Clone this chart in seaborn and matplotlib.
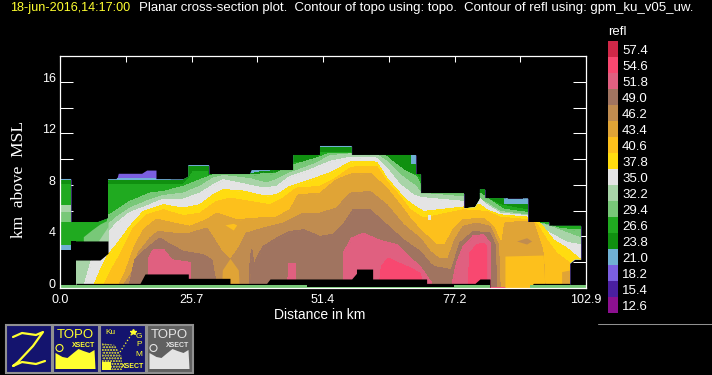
"""
 Title:         Planar cross-section
 Description:   Reflectivity bands over distance and height, with a stepped colour key
"""

# Libraries
import numpy as np
import matplotlib
matplotlib.use("Agg")
import matplotlib.pyplot as plt
from matplotlib.colors import ListedColormap
from matplotlib.patches import Circle, Polygon, Rectangle
from matplotlib.transforms import ScaledTranslation
import seaborn as sns

# Colour key, lowest level first
LEVELS = [12.6, 15.4, 18.2, 21.0, 23.8, 26.6, 29.4, 32.2, 35.0, 37.8, 40.6, 43.4, 46.2, 49.0, 51.8, 54.6, 57.4]
COLOURS = ["#8c1090", "#4a1fa0", "#7b5fe0", "#70b0d4", "#109010", "#20aa20", "#78c878", "#a8d4a8", "#e4e4e4",
           "#ffdc10", "#fdc01c", "#e0a436", "#c08c50", "#a07460", "#e06080", "#f84870", "#d02848"]

X_TICKS = [0.0, 25.7, 51.4, 77.2, 102.9]

# Outer edge of the echo (km, km)
OUTLINE_X = [0, 2.15, 2.15, 7.5, 9.39, 9.39, 11.08, 11.4, 15.97, 16.95, 18.78, 18.78, 24.12, 25.1, 25.1, 29.14, 29.14,
             37.16, 37.5, 45.64, 45.64, 50.86, 50.86, 57.05, 57.05, 69.63, 69.63, 70.55, 70.55, 79.02, 79.02, 81.2,
             82.15, 82.15, 83.13, 83.13, 91.54, 91.54, 95.65, 95.65, 101.91, 101.91, 100.73, 99.76, 99.76, 0]
OUTLINE_Y = [8.46, 8.46, 5.12, 5.12, 5.4, 8.43, 8.43, 8.9, 8.9, 9.15, 9.15, 8.43, 8.43, 8.64, 9.54, 9.54, 8.84,
             8.84, 9.15, 9.15, 10.32, 10.32, 11.02, 11.02, 10.32, 10.32, 8.84, 8.84, 7.34, 7.34, 6.18, 6.26,
             6.9, 7.65, 7.65, 6.96, 6.96, 5.12, 5.12, 4.82, 4.82, 2.22, 2.22, 1.91, 0, 0]

# Top of each band in km
BLUE_X = [0, 9.39, 9.39, 21.52, 21.6, 87.4, 87.4, 90.7, 90.7, 102.9]
BLUE_Y = [12, 12, 8.46, 8.46, 12, 12, 6.88, 6.88, 12, 12]

DARK_X = [0, 9.39, 24.12, 25.1, 25.1, 29.14, 29.14, 37.16, 39.77, 41.08, 42, 45.64, 45.64, 50.86, 50.86, 57.05, 57.05,
          68.46, 68.46, 69.63, 69.63, 70.55, 70.55, 82.15, 83.13, 83.13, 86.72, 86.72, 91.54, 91.54, 102.9]
DARK_Y = [8.3, 8.33, 8.33, 8.64, 9.41, 9.41, 8.84, 8.84, 9.03, 9.03, 9.15, 9.15, 10.32, 10.32, 10.91, 10.91, 10.32,
          10.32, 9.54, 9.54, 8.84, 8.84, 7.34, 7.65, 7.65, 6.96, 6.96, 6.44, 6.44, 5.12, 5.12]

GREEN_X = [0, 2.15, 2.15, 9.39, 9.39, 24.12, 25.1, 26.08, 28.69, 29.14, 32, 37.16, 39.77, 43.68, 45.64, 50.2, 50.86,
           57.05, 57.05, 63.24, 66.5, 69.63, 70.55, 70.61, 82.15, 83.46, 86.06, 89.32, 91.41, 92.58, 102.9]
GREEN_Y = [7.99, 7.99, 6, 6, 7.99, 7.99, 8.38, 9.03, 9.03, 8.38, 8.38, 8.51, 8.77, 9.03, 9.67, 9.8, 10.5,
           10.5, 9.93, 9.93, 9.03, 8.77, 8.38, 7.34, 7.34, 6.96, 6.44, 6.18, 6.05, 5.12, 5.0]

LIGHT_X = [0, 9.39, 9.39, 13.69, 17.6, 20.21, 24.12, 27.38, 29.99, 37.16, 42.38, 44.99, 50.2, 52.81, 63.24, 64.55,
           67.16, 69.63, 70.55, 70.61, 82.15, 84.43, 86.72, 91.41, 92.26, 95.65, 97.8, 101.91]
LIGHT_Y = [2.3, 2.3, 5.59, 6.7, 7.34, 7.47, 7.86, 8.38, 8.77, 8.77, 8.9, 9.46, 10.06, 10.45, 10.4, 9.93,
           9.15, 8.64, 7.99, 7.34, 7.34, 6.7, 6.1, 5.84, 5.12, 4.89, 4.58, 4.5]

PALE_X = [0, 9.39, 9.39, 11.08, 13.69, 17.6, 20.21, 24.12, 27.38, 29.99, 31.95, 37.16, 40.42, 42.38, 44.99, 50.2, 52.81,
          57.05, 61.94, 63.9, 66.5, 69.63, 70.61, 81.5, 83.46, 86.06, 91.41, 92.58, 95.84, 98.45, 101.91]
PALE_Y = [2.3, 2.3, 4.89, 5.48, 6.18, 6.83, 7.16, 7.34, 7.86, 8.51, 8.71, 8.46, 8.12, 8.38, 8.9, 9.67, 10.24,
          10.4, 10.32, 9.8, 8.77, 7.86, 7.34, 6.96, 6.57, 5.92, 5.66, 5.12, 4.76, 4.37, 3.85]

WHITE_X = [0, 4.89, 4.89, 6.19, 8.48, 9.39, 11.08, 13.69, 17.6, 20.21, 24.12, 27.38, 29.99, 31.95, 35.21, 39.77, 42.38,
           44.99, 48.9, 52.81, 57.05, 61.94, 63.9, 66.5, 69.11, 70.61, 78.89, 82.15, 83.46, 86.06, 91.41, 93.24, 95.84,
           99.1, 101.91]
WHITE_Y = [0, 0, 0.36, 2.17, 3.47, 4.24, 5.02, 5.84, 6.44, 6.88, 6.88, 7.34, 7.99, 8.38, 8.12, 7.73, 7.86,
           8.64, 9.15, 9.8, 10.14, 10.06, 9.28, 7.99, 7.21, 7.0, 6.7, 6.9, 6.44, 5.79, 5.59, 4.89, 4.24,
           3.52, 3.34]

YELLOW_X = [0, 6.85, 6.85, 7.82, 9.39, 11.08, 13.69, 16.3, 20.21, 24.12, 27.38, 29.99, 31.95, 35.21, 39.77, 42.38, 44.99,
            48.9, 52.81, 57.05, 61.94, 63.9, 66.5, 68.46, 71.07, 78.89, 82.15, 83.46, 86.06, 91.41, 93.89, 96.5, 99.1,
            101.91]
YELLOW_Y = [0, 0, 0.36, 1.27, 2.56, 3.34, 4.76, 5.92, 6.44, 6.18, 6.44, 7.21, 7.6, 7.55, 7.14, 7.21, 7.86,
            8.38, 8.9, 9.8, 9.75, 8.51, 7.34, 6.57, 5.92, 6.26, 6.44, 6.05, 5.66, 5.48, 5.02, 3.72, 3.08,
            2.17]

ORANGE_X = [0, 8.8, 8.8, 10.1, 11.74, 14.34, 16.95, 20.21, 24.12, 27.38, 30.64, 33.25, 37.16, 41.08, 43.68, 46.29, 50.86,
            53.46, 57.05, 61.94, 63.9, 66.5, 68.46, 71.07, 78.89, 83.46, 86.06, 91.41, 93.24, 95.19, 97.15, 99.76, 101.91]
ORANGE_Y = [0, 0, 0.36, 1.4, 2.56, 4.63, 5.66, 6.05, 5.59, 5.79, 6.7, 6.96, 6.7, 6.44, 6.96, 7.73, 7.86,
            8.38, 9.36, 9.41, 8.25, 7.09, 6.05, 5.4, 6.05, 5.92, 5.48, 5.28, 4.97, 3.72, 2.69, 1.91, 1.91]

TAN_X = [0, 11.74, 11.74, 12.71, 14.34, 16.3, 18.9, 22.17, 25.43, 28.69, 30.64, 34.56, 38.47, 42.38, 44.99, 46.62, 50.86,
         54.12, 57.05, 60.64, 63.9, 66.5, 68.46, 70.42, 73.68, 75.31, 76.94, 78.89, 82.8, 84.76, 86.39, 87.04, 89.98,
         92.58, 94.21, 94.54, 94.87, 102.9]
TAN_Y = [0, 0, 0.36, 1.14, 2.95, 4.5, 5.33, 5.02, 4.76, 5.28, 5.79, 5.28, 5.4, 5.48, 6.05, 7.21, 7.34,
         8.38, 8.84, 8.9, 7.73, 6.44, 5.4, 4.5, 3.34, 3.34, 4.5, 5.28, 5.4, 4.76, 3.34, 5.02, 5.15,
         5.07, 3.21, 2.56, 0, 0]

BROWN_X = [0, 12.71, 12.71, 14.02, 15.32, 17.6, 19.23, 22.17, 25.43, 28.69, 29.99, 31.62, 32.93, 33.58, 35.21, 36.51,
           39.77, 43.68, 46.29, 47.6, 50.86, 54.12, 56.72, 60.64, 63.9, 67.16, 70.42, 72.37, 74.0, 75.96, 77.26, 78.89,
           81.5, 84.11, 85.74, 86.06, 102.9]
BROWN_Y = [0, 0, 0.36, 1.14, 2.69, 3.85, 4.37, 4.24, 4.24, 4.63, 3.85, 2.82, 2.3, 2.3, 3.21, 4.24,
           4.63, 5.02, 5.53, 5.79, 5.79, 6.18, 7.34, 7.47, 6.44, 4.89, 3.85, 2.82, 2.3, 2.3, 3.72, 4.76,
           5.02, 4.76, 3.34, 0, 0]

UMBER_X = [0, 13.69, 13.69, 14.67, 16.3, 18.26, 19.56, 20.86, 24.12, 28.04, 29.67, 30.32, 30.45, 37.03, 37.16, 37.49, 37.95,
           38.47, 39.77, 42.38, 44.99, 47.6, 50.86, 53.46, 55.42, 57.38, 60.64, 63.9, 67.16, 70.42, 72.37, 73.02, 76.61,
           78.24, 80.85, 84.11, 85.09, 85.41, 102.9]
UMBER_Y = [0, 0, 0.36, 2.17, 2.82, 3.47, 3.85, 3.52, 2.82, 2.56, 2.17, 0.75, 0, 0, 1.66, 2.95, 1.66,
           2.3, 3.21, 3.85, 4.37, 4.5, 3.98, 4.16, 4.89, 6.05, 6.05, 4.89, 3.72, 2.82, 1.91, 1.66, 1.4,
           3.47, 4.37, 4.24, 3.34, 0, 0]

ROSE_X = [0, 17.41, 17.41, 18.26, 20.21, 21.84, 25.43, 25.43, 44.6, 44.73, 45.97, 46.16, 55.42, 55.42, 57.05, 59.33, 62.27,
          65.85, 67.81, 70.42, 72.7, 72.76, 76.61, 77.59, 78.89, 80.85, 82.8, 84.11, 84.11, 102.9]
ROSE_Y = [0, 0, 2.3, 2.95, 3, 2.17, 1.97, 0, 0, 1.91, 1.91, 0, 0, 2.69, 3.85, 4.24, 3.72,
          3.34, 2.56, 1.66, 0.36, 0, 0, 1.91, 3.21, 4.03, 4.11, 3.47, 0, 0]

PINK_X = [0, 62.46, 62.92, 64.22, 65.53, 67.81, 70.42, 71.07, 79.87, 80.2, 81.5, 82.8, 83.46, 83.46, 102.9]
PINK_Y = [0, 0, 1.66, 2.3, 2.04, 1.66, 1.14, 0, 0, 2.69, 3.34, 3.47, 3.21, 0, 0]

# Pockets that break the nesting (x, lower, upper)
POCKETS = [
    ([0, 2.15], [5.12, 5.12], [6.44, 6.44], 6),
    ([0, 2.15], [5.92, 5.92], [6.44, 6.44], 7),
    ([0, 2.15], [2.95, 2.95], [3.34, 3.34], 3),
    ([4.56, 6.19, 7.82, 9.39], [3.65, 3.65, 3.65, 3.65], [3.98, 4.5, 4.97, 5.28], 6),
    ([7.5, 8.48, 9.39], [3.65, 3.65, 3.65], [3.65, 4.24, 4.76], 7),
    ([31.62, 31.75, 33.25, 34.88, 35.08], [0, 0, 0, 0, 0], [0, 1.4, 2.3, 1.4, 0], 11),
    ([32.27, 33.9, 34.56], [4.9, 4.5, 4.9], [4.9, 5.02, 4.9], 10),
    ([87.04, 94.54, 94.87], [0, 0, 0], [2.48, 2.56, 0], 10),
    ([98.13, 99.76], [0, 0], [1.27, 1.4], 11),
    ([89.32, 91.28, 92.26], [3.65, 3.41, 3.65], [3.65, 3.9, 3.65], 12),
    ([71.9, 72.6], [5.3, 5.3], [5.7, 5.7], 8),
]

# No-data areas near the ground
HOLE_X = [2.15, 7.82, 9.39]
HOLE_LOW = [2.17, 2.17, 2.69]
HOLE_TOP = [3.65, 3.65, 3.65]
LEFT_GAP_X = [0, 2.15, 2.15, 3.13]
LEFT_GAP_Y = [2.95, 2.95, 3.65, 3.65]
GROUND_X = [3.13, 15.65, 16.63, 25.1, 25.1, 33.25, 33.25, 40.42, 41.08, 57.05, 58.0, 58.0, 61.16, 61.16, 71.72, 71.72,
            81.17, 82.15, 84.11, 84.11, 91.93, 92.6, 99.76]
GROUND_Y = [0.36, 0.36, 1.09, 1.09, 0.75, 0.75, 0.36, 0.36, 0.7, 0.7, 1.14, 1.47, 1.47, 0.7, 0.7, 0.36,
            0.36, 0.7, 0.7, 0, 0, 0.36, 0.36]

# Terrain strip
TOPO_X = [0, 48.25, 48.25, 77, 77, 84.11, 84.11, 91.93, 91.93, 102.9]
TOPO_Y = [0.22, 0.22, 0.05, 0.05, 0.2, 0.2, 0, 0, 0.2, 0.2]

def draw_band(axis, x_list:list, y_list:list, colour:str, clip, order:float) -> None:
    """
    Draws one band as a seaborn edge line with the area below it filled

    Parameters:
    * `axis`:   The axis to draw on
    * `x_list`: Distances (km)
    * `y_list`: Heights of the top of the band (km)
    * `colour`: The band colour
    * `clip`:   The echo outline
    * `order`:  The drawing order of the band
    """
    sns.lineplot(x=x_list, y=y_list, ax=axis, color=colour, linewidth=0.4, sort=False, zorder=order,
                 estimator=None, errorbar=None, legend=False, antialiased=False)
    axis.lines[-1].set_clip_path(clip)
    fill = axis.fill_between(x_list, 0, y_list, color=colour, linewidth=0, antialiased=False, zorder=order)
    fill.set_clip_path(clip)

def draw_button(axis, left:float, back:str, edge:str) -> None:
    axis.add_patch(Rectangle((left, 325), 46, 48, facecolor=back, edgecolor=edge, linewidth=1.5))

# Set up figure
sns.set_style("dark", {"axes.facecolor": "black", "figure.facecolor": "black", "text.color": "white",
                       "axes.edgecolor": "white", "xtick.color": "white", "ytick.color": "white",
                       "axes.labelcolor": "white"})
plt.rcParams["font.family"] = ["Liberation Sans", "DejaVu Sans"]
palette = sns.color_palette(COLOURS)
fig = plt.figure(figsize=(7.12, 3.75), dpi=100)
axis = fig.add_axes([60/712, 1 - 288/375, 526/712, 232/375])

# Echo
clip = Polygon(np.column_stack([OUTLINE_X, OUTLINE_Y]), closed=True, transform=axis.transData)
axis.fill_between(OUTLINE_X, 0, OUTLINE_Y, color=palette[2], linewidth=0, antialiased=False, zorder=1.0)
bands = [(BLUE_X, BLUE_Y, 3), (DARK_X, DARK_Y, 4), (GREEN_X, GREEN_Y, 5), (LIGHT_X, LIGHT_Y, 6), (PALE_X, PALE_Y, 7),
         (WHITE_X, WHITE_Y, 8), (YELLOW_X, YELLOW_Y, 9), (ORANGE_X, ORANGE_Y, 10), (TAN_X, TAN_Y, 11),
         (BROWN_X, BROWN_Y, 12), (UMBER_X, UMBER_Y, 13), (ROSE_X, ROSE_Y, 14), (PINK_X, PINK_Y, 15)]
for x_list, y_list, index in bands:
    draw_band(axis, x_list, y_list, palette[index], clip, 1 + index*0.03)
for x_list, lower, upper, index in POCKETS:
    pocket = axis.fill_between(x_list, lower, upper, color=palette[index], linewidth=0, antialiased=False, zorder=1.6)
    pocket.set_clip_path(clip)

# No-data areas and terrain
axis.fill_between(HOLE_X, HOLE_LOW, HOLE_TOP, color="black", linewidth=0, antialiased=False, zorder=1.7)
axis.fill_between(LEFT_GAP_X, 0, LEFT_GAP_Y, color="black", linewidth=0, antialiased=False, zorder=1.7)
axis.fill_between(GROUND_X, 0, GROUND_Y, color="black", linewidth=0, antialiased=False, zorder=1.7)
axis.fill_between(TOPO_X, 0, TOPO_Y, color=palette[6], linewidth=0, antialiased=False, zorder=1.8)

# Format axes
axis.set_xlim(0, 102.9)
axis.set_ylim(0, 18)
axis.set_xticks(np.linspace(0, 102.9, 9))
axis.set_xticklabels([f"{X_TICKS[i//2]:.1f}" if i % 2 == 0 else "" for i in range(9)])
axis.set_yticks(range(0, 18, 2))
axis.set_yticklabels([str(v) if v % 4 == 0 else "" for v in range(0, 18, 2)])
axis.tick_params(axis="x", direction="in", length=4.3, width=0.75, top=True, bottom=True, labelsize=9, pad=4.5)
axis.tick_params(axis="y", direction="in", length=9.4, width=0.75, left=True, right=True, labelsize=9, pad=3)
for label in axis.get_yticklabels():
    label.set_va("bottom")
    label.set_transform(label.get_transform() + ScaledTranslation(0, -3/100, fig.dpi_scale_trans))
for spine in axis.spines.values():
    spine.set_color("white")
    spine.set_linewidth(0.9)
axis.grid(False)
axis.set_xlabel("Distance in km", fontsize=10, labelpad=1)
axis.xaxis.label.set_x(0.494)

# Overlay in figure pixels for texts and buttons
over = fig.add_axes([0, 0, 1, 1], facecolor="none")
over.set_xlim(0, 712)
over.set_ylim(375, 0)
over.axis("off")
over.text(10, 8, "18-jun-2016,14:17:00", color="#ffff30", fontsize=9.05, va="center")
over.text(139, 8, "Planar cross-section plot.  Contour of topo using: topo.  Contour of refl using: gpm_ku_v05_uw.",
          color="white", fontsize=9.55, va="center")
over.text(19, 179, "km  above  MSL", color="white", fontsize=12.5, rotation=90, ha="center", va="center",
          family=["Liberation Serif", "DejaVu Serif"])
over.text(608, 32, "refl", color="white", fontsize=9.5, va="center")
over.plot([598, 712], [324, 324], color="#909090", linewidth=0.75)

# Buttons
draw_button(over, 5.5, "#14146e", "#909090")
draw_button(over, 52.5, "#14146e", "#909090")
draw_button(over, 99.5, "#14146e", "#909090")
draw_button(over, 146.5, "#606060", "#909090")
over.plot([13, 22, 36, 43, 33, 18, 13, 22, 36, 45], [337, 333, 335, 332, 346, 362, 366, 362, 364, 361],
          color="#ffff30", linewidth=1.6)
for left, colour in [(52.5, "#ffff30"), (146.5, "#e4e4e4")]:
    over.text(left + 23, 335.5, "TOPO", color=colour, fontsize=9.5, ha="center", va="center")
    over.text(left + 31, 345.5, "XSECT", color=colour, fontsize=5, ha="center", va="center", fontweight="bold")
    over.add_patch(Polygon([(left + 3, 369), (left + 3, 353), (left + 10, 357), (left + 15, 358), (left + 21, 353),
                            (left + 26, 349), (left + 31, 351), (left + 37, 353), (left + 42, 350), (left + 43, 369)],
                           facecolor=colour, edgecolor="none"))
    over.add_patch(Circle((left + 7, 348), 3.5, facecolor="none", edgecolor=colour, linewidth=0.8))
over.add_patch(Polygon([(102, 370), (102, 343), (115, 345), (122, 357), (122, 370)], facecolor="#14146e",
                       edgecolor="#ffff30", hatch="......", linewidth=0))
over.add_patch(Rectangle((102, 362), 9, 8, facecolor="#ffff30", edgecolor="none"))
over.text(110, 333, "Ku", color="#ffff30", fontsize=6, ha="center", va="center")
over.plot([120, 133], [352, 332], color="#ffff30", linewidth=0.9, linestyle=":")
over.plot([133], [332], marker="*", color="#ffff30", markersize=4)
for offset, letter in enumerate("GPM"):
    over.text(139, 336 + offset * 9, letter, color="#ffff30", fontsize=6, ha="center", va="center")
over.text(133, 367, "XSECT", color="#ffff30", fontsize=5, ha="center", va="center", fontweight="bold")

# Colour key
key = fig.add_axes([608/712, 1 - 313/375, 10/712, 272/375])
key_values = np.array(LEVELS[::-1]).reshape(-1, 1)
sns.heatmap(key_values, ax=key, cmap=ListedColormap(COLOURS), cbar=False, xticklabels=False,
            yticklabels=[f"{v:.1f}" for v in LEVELS[::-1]])
key.yaxis.tick_right()
key.tick_params(axis="y", length=0, labelsize=9.5, labelcolor="white", pad=3, labelrotation=0)

# Save
fig.savefig("out.png", dpi=100, facecolor="black")
